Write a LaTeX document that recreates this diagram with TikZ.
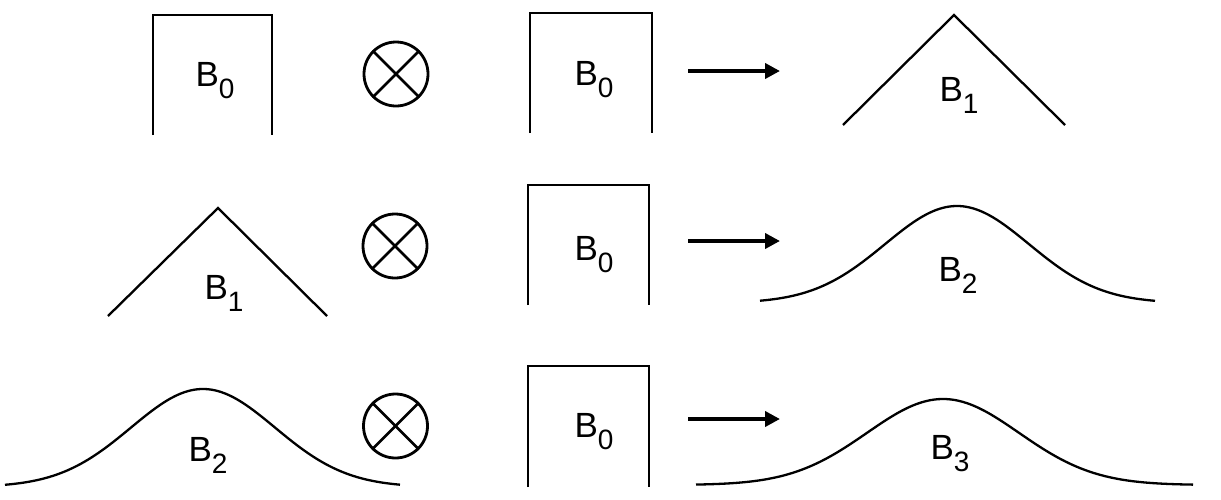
\documentclass[tikz,border=0pt]{standalone}
\usepackage{fontspec}
\setmainfont{Liberation Sans}
\usetikzlibrary{arrows.meta}
\newcommand{\bsub}[1]{B\raisebox{-6pt}{\fontsize{14}{14}\selectfont #1}}
\tikzset{curve/.style={line width=1.15pt},
    lbl/.style={font=\fontsize{17.5}{17.5}\selectfont, inner sep=0pt},
    otimes/.style={draw, circle, line width=1.4pt, minimum size=32pt, inner sep=0pt},
    maps/.style={line width=2pt, -{Triangle[length=7.5pt,width=7.5pt]}}}

\begin{document}
\begin{tikzpicture}[x=0.5pt,y=-0.5pt]
    \useasboundingbox (0,0) rectangle (1221,499);

    \node[lbl] at (215,81)    (b0-1a)  {\bsub{0}};
    \node[otimes] at (396,74) (x1)     {};
    \node[lbl] at (594,80)    (b0-1b)  {\bsub{0}};
    \coordinate (a1s) at (688,71);
    \coordinate (a1e) at (780,71);
    \node[lbl] at (959,95)    (b1-1)   {\bsub{1}};

    \node[lbl] at (224,293)   (b1-2)   {\bsub{1}};
    \node[otimes] at (395,246) (x2)    {};
    \node[lbl] at (594,255)   (b0-2)   {\bsub{0}};
    \coordinate (a2s) at (688,241);
    \coordinate (a2e) at (780,241);
    \node[lbl] at (958,275)   (b2-2)   {\bsub{2}};

    \node[lbl] at (208,455)   (b2-3)   {\bsub{2}};
    \node[otimes] at (395.5,426) (x3)  {};
    \node[lbl] at (594,432)   (b0-3)   {\bsub{0}};
    \coordinate (a3s) at (688,419);
    \coordinate (a3e) at (780,419);
    \node[lbl] at (950,454)   (b3-3)   {\bsub{3}};

    \draw[curve] (153,135) |- (272,15) -- (272,135);
    \draw[curve] (530,133) |- (652,13) -- (652,133);
    \draw[curve] (843,125) -- (954,15) -- (1065,125);
    \draw[curve] (108,316) -- (218,208) -- (327,316);
    \draw[curve] (528,305) |- (649,185) -- (649,305);
    \draw[curve] plot[domain=760:1155, samples=120, smooth] (\x, {303-97*exp(-0.5*pow((\x-957)/72,2))});
    \draw[curve] plot[domain=5:400, samples=120, smooth] (\x, {487-98*exp(-0.5*pow((\x-203)/72,2))});
    \draw[curve] (528,487) |- (649,366) -- (649,487);
    \draw[curve] plot[domain=696:1193, samples=120, smooth] (\x, {485-86*exp(-0.5*pow((\x-943)/76,2))});

    \foreach \o in {x1,x2,x3} {
        \draw[line width=1.4pt] (\o.45) -- (\o.225);
        \draw[line width=1.4pt] (\o.135) -- (\o.-45);
    }

    \draw[maps] (a1s) -- (a1e);
    \draw[maps] (a2s) -- (a2e);
    \draw[maps] (a3s) -- (a3e);
\end{tikzpicture}
\end{document}
